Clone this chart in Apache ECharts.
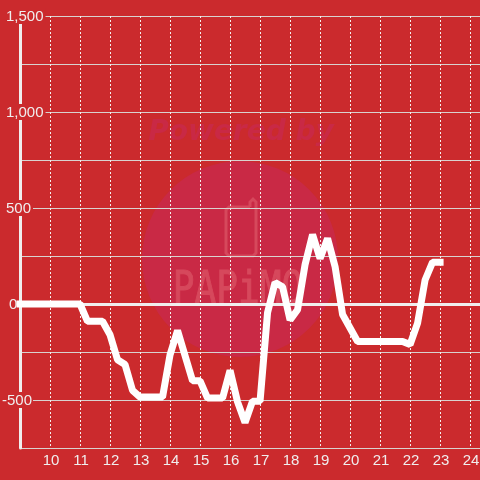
<!DOCTYPE html>
<html><head><meta charset="utf-8">
<style>html,body{margin:0;padding:0;background:#cb2a2d}#c{width:480px;height:480px}</style>
<script src="https://cdn.jsdelivr.net/npm/echarts@6/dist/echarts.min.js"></script>
</head><body><div id="c"></div>
<script>
const hours = [9,11,11.25,11.75,12,12.25,12.5,12.75,13,13.75,14,14.25,14.75,15,15.25,15.75,16,16.25,16.5,16.75,17,17.25,17.5,17.75,18,18.25,18.5,18.75,19,19.25,19.5,19.75,20,20.25,21.75,22,22.25,22.5,22.75,23];
const values = [0,0,-90,-90,-160,-290,-315,-450,-485,-485,-265,-138,-400,-400,-490,-490,-346,-510,-617,-506,-506,-45,112,90,-83,-30,205,362,237,341,195,-55,-125,-195,-195,-211,-100,125,218,218];
const yTicks = [-750,-500,-250,0,250,500,750,1000,1250,1500];
const fg = '#f0eeee';
const chart = echarts.init(document.getElementById('c'));
function fmt(v){
  if (v % 500 !== 0) return '';
  const s = v.toLocaleString('en-US');
  if (v < 0) return '{n|' + s + '}';
  if (v === 0) return '{z|' + s + '}';
  return '{p|' + s + '}';
}
const bg = '#cb2a2d';
const base = {fontSize:15, color:fg, fontFamily:'Liberation Sans', backgroundColor:bg, height:14, lineHeight:14};
chart.setOption({
  animation:false,
  backgroundColor:bg,
  graphic:[
    {type:'circle', z:-10, shape:{cx:240,cy:259,r:98}, style:{fill:'#c92945'}},
    {type:'polyline', z:-9, shape:{points:[[250,207],[229,207],[226,210],[226,253],[229,256],[253,256],[256,253],[256,202],[253,199],[250,202],[250,207]]}, style:{fill:'none',stroke:'#d6485c',lineWidth:3}},
    {type:'text', z:-9, x:241, y:133, style:{text:'Powered by',fill:'#c92945',font:'italic bold 28px "DejaVu Sans"',align:'center',verticalAlign:'middle'}},
    {type:'text', z:-9, x:238, y:292, originX:0, originY:0, scaleX:0.82, style:{text:'PAPiMO',fill:'#d6485c',stroke:'#d6485c',lineWidth:1,font:'44px "DejaVu Sans Mono"',align:'center',verticalAlign:'middle'}}
  ],
  grid:{left:20,right:0,top:16,bottom:32,containLabel:false,outerBoundsMode:'none'},
  xAxis:{type:'value',min:9,max:24.33,interval:1,
    axisLine:{onZero:true,lineStyle:{color:fg,width:3}},
    axisTick:{show:false},
    axisLabel:{margin:5,fontSize:15,color:fg,fontFamily:'Liberation Sans',showMinLabel:false,showMaxLabel:false,padding:[0,0,0,2],
      formatter:v=>Number.isInteger(v)?String(v):''},
    splitLine:{show:true,lineStyle:{color:'#f4f0ee',type:[2,2],width:1}}},
  yAxis:{type:'value',min:yTicks[0],max:yTicks[yTicks.length-1],interval:250,
    axisLine:{show:true,onZero:false,lineStyle:{color:fg,width:3}},
    axisTick:{show:false},
    axisLabel:{inside:true,margin:-18,align:'left',formatter:fmt,showMinLabel:true,
      rich:{p:Object.assign({},base,{padding:[2,2,0,4]}),
            z:Object.assign({},base,{padding:[2,1,0,7]}),
            n:Object.assign({},base,{padding:[2,1,0,0]})}},
    splitLine:{show:true,lineStyle:{color:'#d9d2cf',width:1}}},
  series:[{type:'line',data:hours.map((h,i)=>[h,values[i]]),showSymbol:false,clip:false,z:5,
    lineStyle:{color:'#ffffff',width:7,cap:'square',join:'bevel'}}]
});
</script></body></html>
